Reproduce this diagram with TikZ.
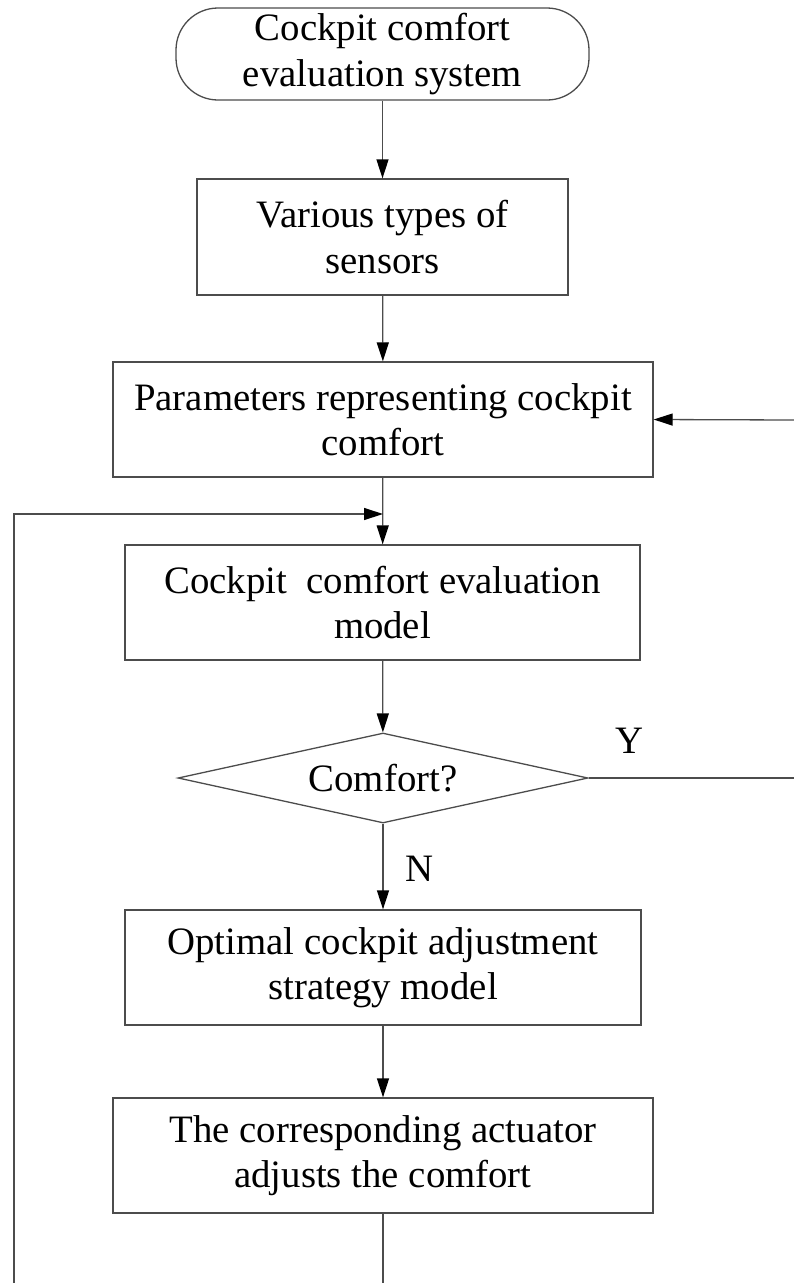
\documentclass[tikz,border=0pt]{standalone}
\usepackage{fontspec}
\setmainfont{Liberation Serif}
\usepackage{tikz}
\usetikzlibrary{arrows.meta,shapes.geometric,positioning}

\begin{document}
\begin{tikzpicture}[
            x=1pt, y=-1pt,
            every node/.style={
                    inner sep=0pt,
                    align=center,
                    font=\fontsize{38.8}{45.5}\selectfont
                },
            terminal node/.style={
                    draw=black!70,
                    line width=1.3pt,
                    rounded corners=42pt,
                    minimum width=413pt,
                    minimum height=92pt
                },
            process box/.style={
                    draw=black!70,
                    line width=1.3pt,
                    minimum height=115pt
                },
            decision node/.style={
                    draw=black!70,
                    line width=1.3pt,
                    diamond,
                    aspect=4.5,
                    minimum width=410pt,
                    minimum height=90pt
                },
            connecting line/.style={
                    draw=black!70,
                    line width=1.3pt
                },
            flow arrow/.style={
                    connecting line,
                    -{Triangle[length=19pt,width=12pt,color=black]}
                },
            branch label/.style={
                    font=\fontsize{38.8}{45.5}\selectfont
                }
        ]

        \useasboundingbox (0,0) rectangle (794,1283);

        % Main chain
        \node[terminal node] (start) at (382.5, 54) {Cockpit comfort\\evaluation system};
        \node[process box, minimum width=371pt, minimum height=116pt] (sensors) at (382.5, 237) {Various types of\\sensors};
        \node[process box, minimum width=540pt] (params) at (383, 419.5) {Parameters representing cockpit\\comfort};
        \node[process box, minimum width=515pt] (evalmodel) at (382.5, 602.5) {Cockpit~ comfort evaluation\\model};
        \node[decision node] (comfort) at (383, 778) {Comfort?};
        \node[process box, minimum width=516pt] (strategy) at (383, 967.5) {Optimal cockpit adjustment\\strategy model};
        \node[process box, minimum width=540pt] (actuator) at (383, 1155.5) {The corresponding actuator\\adjusts the comfort};

        % Branch labels
        \node[branch label] (yes) at (630, 741) {Y};
        \node[branch label] (no) at (420, 869) {N};

        % Loose ends
        \coordinate (merge) at (383, 514);
        \coordinate (feedin) at (14, 1283);
        \coordinate (actout) at (383, 1283);
        \coordinate (yout) at (794, 778);
        \coordinate (yback) at (794, 420);

        % Connections
        \foreach \a/\b in {start/sensors, sensors/params, params/evalmodel, evalmodel/comfort, comfort/strategy, strategy/actuator} {
                \draw[flow arrow] (\a) -- (\b);
            }

        \draw[connecting line] (actuator) -- (actout);
        \draw[flow arrow] (feedin) |- (merge);
        \draw[connecting line] (comfort.east) -- (yout);
        \draw[flow arrow] (yback) -- (params.east);

    \end{tikzpicture}
\end{document}
